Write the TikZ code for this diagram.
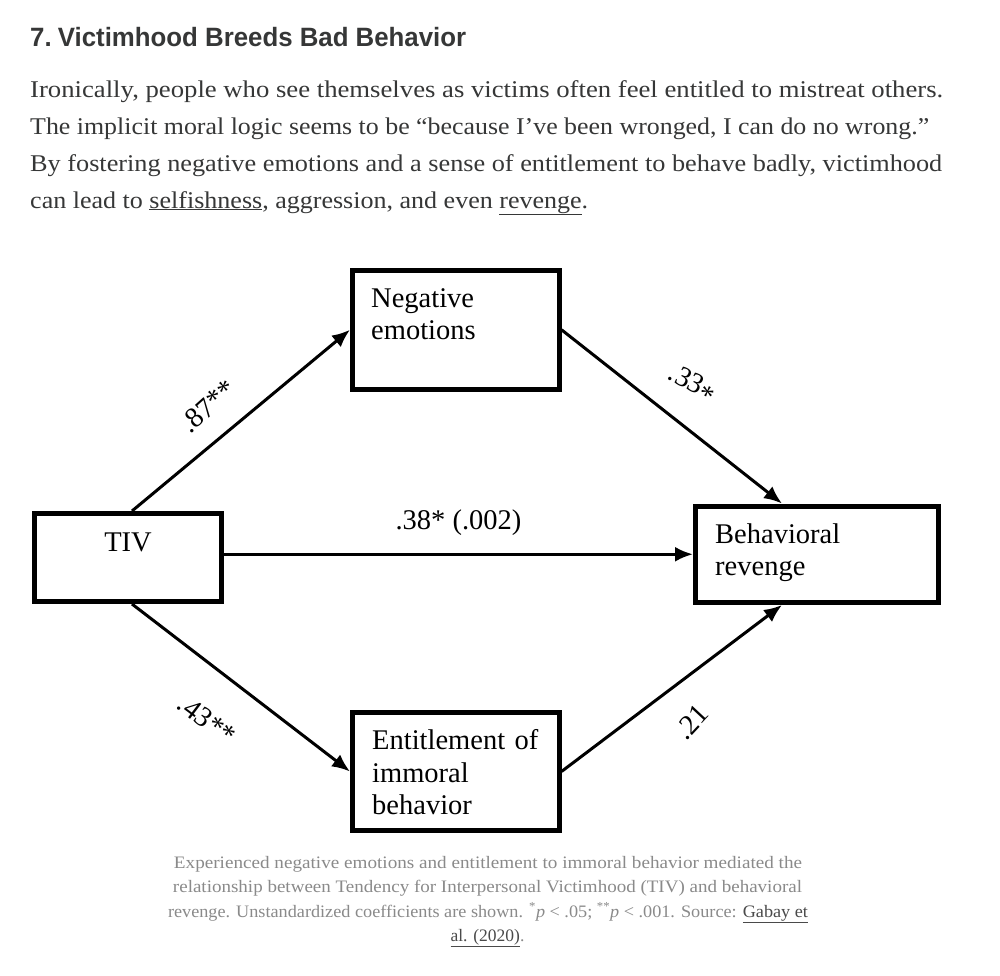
\documentclass[tikz,border=0pt]{standalone}
\usepackage{fontspec}
\setmainfont{Liberation Serif}
\newfontfamily\titlefont{Liberation Sans}
\usepackage{graphicx}
\usetikzlibrary{arrows.meta,positioning,calc}
\definecolor{inktext}{HTML}{363737}
\definecolor{captiongray}{HTML}{8A8A8A}
\definecolor{linkgray}{HTML}{4A4A4A}

\begin{document}
\begin{tikzpicture}[x=1pt,y=-1pt,
    box/.style={draw,line width=5pt,inner sep=0pt},
    boxtext/.style={inner sep=0pt,text width=210pt,align=left,font=\fontsize{28.5}{32.5}\selectfont},
    coef/.style={inner sep=0pt,font=\fontsize{28.5}{32.5}\selectfont},
    link/.style={line width=3pt,-{Latex[length=18pt,width=15pt]}},
    bodyline/.style={anchor=base west,inner sep=0pt,text=inktext},
    capline/.style={anchor=base,inner sep=0pt,text=captiongray}]
  \useasboundingbox (0,0) rectangle (1000,975);
  \fill[white] (0,0) rectangle (1000,975);

  \node[bodyline] (title) at (30,46) {\resizebox{436pt}{\height}{\titlefont\bfseries\fontsize{26.5}{30}\selectfont 7.\kern-1pt\ Victimhood Breeds Bad Behavior}};
  \node[bodyline] (line1) at (30,97) {\resizebox{913pt}{\height}{\fontsize{24}{38}\selectfont Ironically, people who see themselves as victims often feel entitled to mistreat others.}};
  \node[bodyline] (line2) at (30,134) {\resizebox{899pt}{\height}{\fontsize{24}{38}\selectfont The implicit moral logic seems to be “because I’ve been wronged, I can do no wrong.”}};
  \node[bodyline] (line3) at (30,171) {\resizebox{912pt}{\height}{\fontsize{24}{38}\selectfont By fostering negative emotions and a sense of entitlement to behave badly, victimhood}};
  \node[bodyline] (line4) at (30,208) {\resizebox{558pt}{\height}{\fontsize{24}{38}\selectfont can lead to \underline{selfishness}, aggression, and even \underline{revenge}.}};

  \node[box,minimum width=187pt,minimum height=88pt] (tiv) at (128,557.5) {};
  \node[box,minimum width=206.5pt,minimum height=119.5pt] (neg) at (455.75,329.75) {};
  \node[box,minimum width=243pt,minimum height=96.5pt] (beh) at (817,554.25) {};
  \node[box,minimum width=206.5pt,minimum height=118pt] (ent) at (455.75,771.5) {};

  \node[coef,anchor=base] (tivtext) at ([shift={(0,40)}]tiv.north) {TIV};
  \node[boxtext,anchor=base west] (negtext) at ([shift={(21,39.5)}]neg.north west) {Negative\\emotions};
  \node[boxtext,anchor=base west] (behtext) at ([shift={(22,39.5)}]beh.north west) {Behavioral\\revenge};
  \node[boxtext,anchor=base west] (enttext) at ([shift={(22,39.5)}]ent.north west) {Entitlement of\\immoral\\behavior};

  \draw[link] ([xshift=4pt]tiv.north) -- node[coef,pos=0.5,xshift=-33pt,yshift=14pt,rotate=42] (c87) {.87**} (neg.west);
  \draw[link] (neg.east) -- node[coef,pos=0.5,xshift=20pt,yshift=32pt,rotate=-27] (c33) {.33\raisebox{-0.22em}{*}} ([xshift=-35pt]beh.north);
  \draw[link] (tiv.east |- beh.west) -- node[coef,above=17pt] (c38) {.38* (.002)} (beh.west);
  \draw[link] ([xshift=4pt]tiv.south) -- node[coef,pos=0.5,xshift=-34pt,yshift=-32pt,rotate=-37] (c43) {.43**} (ent.west);
  \draw[link] (ent.east) -- node[coef,pos=0.5,xshift=20pt,yshift=-34pt,rotate=47] (c21) {.21} ([xshift=-35pt]beh.south);

  \node[capline] (cap1) at (488,868) {\resizebox{628pt}{\height}{\fontsize{17.5}{24.5}\selectfont Experienced negative emotions and entitlement to immoral behavior mediated the}};
  \node[capline] (cap2) at (487.5,892.5) {\resizebox{629pt}{\height}{\fontsize{17.5}{24.5}\selectfont relationship between Tendency for Interpersonal Victimhood (TIV) and behavioral}};
  \node[capline] (cap3) at (488,917) {\resizebox{640pt}{\height}{\fontsize{17.5}{24.5}\selectfont revenge. Unstandardized coefficients are shown. \textsuperscript{*}\textit{p} < .05; \textsuperscript{**}\textit{p} < .001. Source: \textcolor{linkgray}{\underline{Gabay et}}}};
  \node[capline] (cap4) at (487.5,941.5) {\fontsize{17.5}{24.5}\selectfont\textcolor{linkgray}{\underline{al. (2020)}}.};
\end{tikzpicture}
\end{document}
